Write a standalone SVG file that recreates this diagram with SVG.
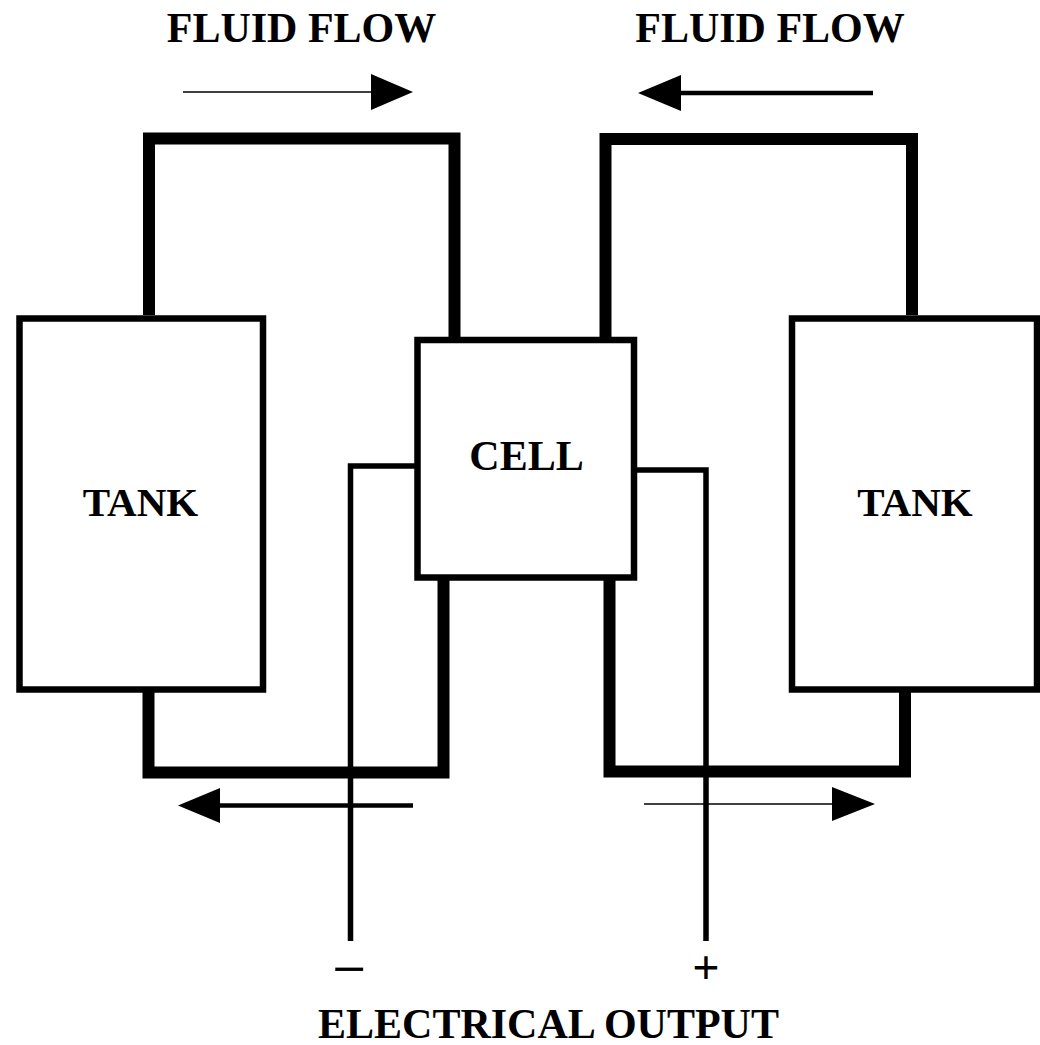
<svg xmlns="http://www.w3.org/2000/svg" width="1040" height="1045" viewBox="0 0 1040 1045">
<style>
.lbl{font-family:"Liberation Serif","Times New Roman",serif;font-weight:bold;font-size:42px;fill:#000;text-anchor:middle}
.box{fill:#fff;stroke:#000;stroke-width:6.5}
.pipe{fill:none;stroke:#000;stroke-width:12;stroke-linejoin:miter;stroke-linecap:butt}
.wire{fill:none;stroke:#000;stroke-width:5.5;stroke-linejoin:miter}
.thin{stroke:#000;stroke-width:1.6}
.thick{stroke:#000;stroke-width:4.5}
</style>
<rect width="1040" height="1045" fill="#fff"/>
<g id="connectors">
<path class="pipe" d="M149,315 V138.5 H454.5 V337"/>
<path class="pipe" d="M605.5,337 V139 H912 V315"/>
<path class="pipe" d="M148.5,692 V772.5 H443.5 V572"/>
<path class="pipe" d="M905,685 V771.5 H609.5 V572"/>
<path class="wire" d="M417,466 H350.5 V941"/>
<path class="wire" d="M634,470 H706 V941"/>
<line class="thin" x1="183" y1="92" x2="373" y2="92"/>
<polygon points="371,74 413,92 371,110"/>
<line class="thick" x1="873" y1="93" x2="679" y2="93"/>
<polygon points="681,75 638,93 681,111"/>
<line class="thick" x1="413" y1="805.5" x2="218" y2="805.5"/>
<polygon points="220,788 178,805.5 220,823"/>
<line class="thin" x1="644" y1="804" x2="834" y2="804"/>
<polygon points="832,787 875,804 832,821"/>
</g>
<g id="tank-left">
<rect class="box" x="19.5" y="318.5" width="243.5" height="371"/>
<text class="lbl" x="140.5" y="516" style="font-size:41px">TANK</text>
</g>
<g id="cell">
<rect class="box" x="417.5" y="340" width="216.5" height="237.5"/>
<text class="lbl" x="526.5" y="470">CELL</text>
</g>
<g id="tank-right">
<rect class="box" x="792" y="318.5" width="245" height="371"/>
<text class="lbl" x="915" y="516" style="font-size:41px">TANK</text>
</g>
<g id="labels">
<text class="lbl" x="0" y="985" transform="translate(349,0) scale(1.25,1)" style="font-size:48px">−</text>
<text class="lbl" x="706" y="984" style="font-size:48px">+</text>
<text class="lbl" x="301.5" y="42">FLUID FLOW</text>
<text class="lbl" x="770" y="42">FLUID FLOW</text>
<text class="lbl" x="548.5" y="1038">ELECTRICAL OUTPUT</text>
</g>
</svg>
